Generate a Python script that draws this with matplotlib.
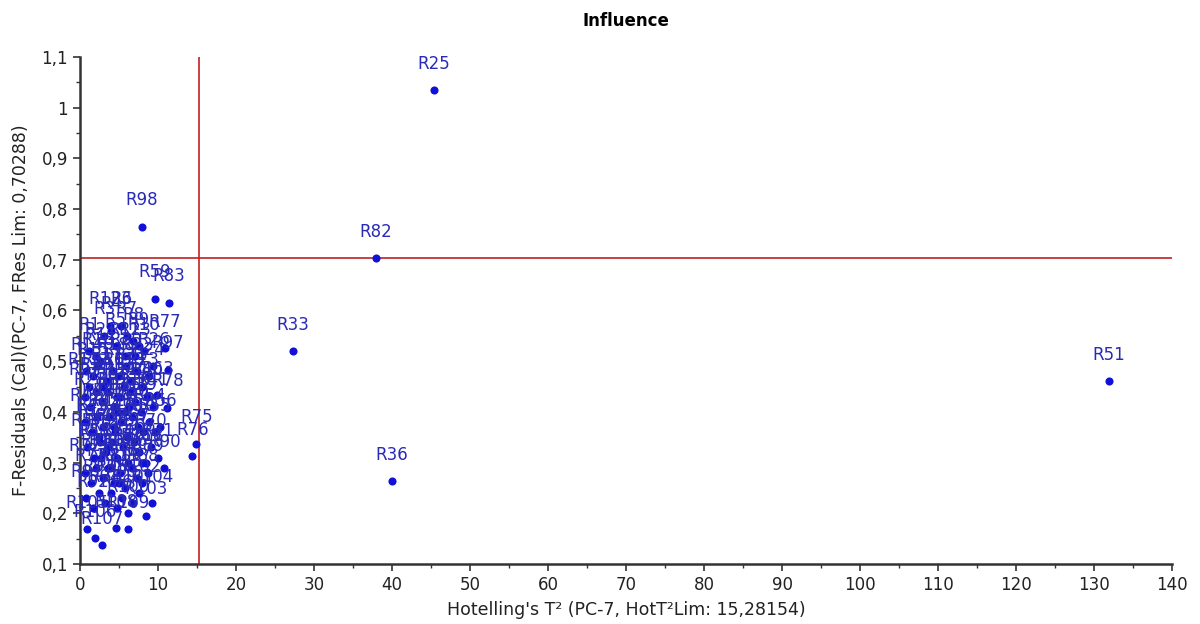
import matplotlib
matplotlib.use("Agg")
import matplotlib.pyplot as plt
from matplotlib.ticker import MultipleLocator, FuncFormatter

plt.rcParams['font.family'] = ['DejaVu Sans']

# Data ------------------------------------------------------------------------

# outlying / labelled samples
named = ["R25", "R98", "R82", "R33", "R51", "R36", "R75", "R76", "R59", "R83",
         "R123", "R77", "R97", "R63", "R78"]
named_t2 = [45.4, 7.9, 37.9, 27.3, 131.9, 40.0, 14.9, 14.4, 9.6, 11.4,
            3.8, 10.9, 11.3, 9.9, 11.2]
named_fres = [1.035, 0.765, 0.703, 0.52, 0.46, 0.263, 0.337, 0.313, 0.623, 0.615,
              0.57, 0.526, 0.483, 0.433, 0.408]

# the dense cluster of samples (108 of them, the rest of R1..R123)
cluster_t2 = [1.2, 2.0, 3.1, 4.0, 4.6, 5.3, 6.0, 6.8, 7.5, 8.2, 2.6, 5.8, 7.0,
              0.8, 1.6, 2.3, 3.4, 4.2, 5.0, 5.9, 6.5, 7.3, 8.0, 8.8, 9.4,
              0.6, 1.3, 2.0, 2.8, 3.5, 4.3, 5.1, 5.7, 6.4, 7.1, 7.8, 8.6, 9.3,
              0.7, 1.5, 2.2, 3.0, 3.7, 4.5, 5.2, 6.0, 6.7, 7.4, 8.1, 8.9, 9.6, 10.3,
              0.9, 1.8, 2.5, 3.3, 4.1, 4.8, 5.5, 6.2, 6.9, 7.6, 8.4, 9.1, 10.0,
              0.6, 1.4, 2.1, 2.9, 3.6, 4.4, 5.1, 5.8, 6.6, 7.3, 8.0, 8.7, 10.8,
              0.8, 1.6, 2.4, 3.2, 4.0, 4.7, 5.4, 6.1, 6.8, 7.6, 8.5, 9.2,
              0.9, 1.9, 2.8, 4.6, 6.2,
              3.0, 4.9, 2.7, 5.6, 3.9, 4.3, 6.3, 1.1, 7.9, 5.0,
              2.4, 3.6, 4.7]
cluster_fres = [0.52, 0.51, 0.55, 0.56, 0.53, 0.57, 0.55, 0.54, 0.53, 0.52, 0.50, 0.51, 0.51,
                0.48, 0.47, 0.49, 0.46, 0.48, 0.47, 0.49, 0.46, 0.48, 0.45, 0.47, 0.49,
                0.43, 0.41, 0.44, 0.42, 0.44, 0.41, 0.43, 0.40, 0.44, 0.42, 0.40, 0.43, 0.41,
                0.38, 0.36, 0.39, 0.37, 0.39, 0.36, 0.38, 0.35, 0.39, 0.37, 0.36, 0.38, 0.36, 0.37,
                0.33, 0.31, 0.34, 0.32, 0.34, 0.31, 0.33, 0.30, 0.34, 0.32, 0.30, 0.33, 0.31,
                0.28, 0.26, 0.29, 0.27, 0.29, 0.26, 0.28, 0.25, 0.29, 0.27, 0.26, 0.28, 0.289,
                0.23, 0.21, 0.24, 0.22, 0.24, 0.21, 0.23, 0.20, 0.22, 0.24, 0.195, 0.22,
                0.169, 0.151, 0.137, 0.171, 0.169,
                0.45, 0.40, 0.31, 0.45, 0.29, 0.37, 0.41, 0.45, 0.30, 0.26,
                0.35, 0.33, 0.43]

t2_lim = 15.28154
fres_lim = 0.70288

# sample names for the cluster: the ids not already used by the named points
cluster_names = ["R%d" % i for i in range(1, 124) if "R%d" % i not in named]

# Plot ------------------------------------------------------------------------

fig = plt.figure(figsize=(12, 6.24), dpi=100)
ax = fig.add_axes([0.0667, 0.0962, 0.91, 0.8125])

point_color = "#1010d8"
label_color = "#2a2ab8"

all_t2 = cluster_t2 + named_t2
all_fres = cluster_fres + named_fres
all_names = cluster_names + named

ax.scatter(all_t2, all_fres, s=34, color=point_color, zorder=3, linewidths=0)
for name, x, y in zip(all_names, all_t2, all_fres):
    ax.annotate(name, (x, y), xytext=(0, 19), textcoords="offset points",
                ha="center", va="center", fontsize=12, color=label_color, zorder=4)

ax.axvline(t2_lim, color="#c02020", lw=1.2, zorder=2)
ax.axhline(fres_lim, color="#c02020", lw=1.2, zorder=2)

ax.set_xlim(0, 140)
ax.set_ylim(0.1, 1.1)
ax.xaxis.set_major_locator(MultipleLocator(10))
ax.xaxis.set_minor_locator(MultipleLocator(5))
ax.yaxis.set_major_locator(MultipleLocator(0.1))
ax.yaxis.set_minor_locator(MultipleLocator(0.05))
ax.yaxis.set_major_formatter(FuncFormatter(lambda v, p: ("%g" % round(v, 2)).replace(".", ",")))

for s in ["top", "right"]:
    ax.spines[s].set_visible(False)
for s in ["left", "bottom"]:
    ax.spines[s].set_linewidth(1.8)
    ax.spines[s].set_color("#333333")
ax.tick_params(which="major", direction="out", length=5, width=1.2, labelsize=12, colors="#333333")
ax.tick_params(which="minor", direction="out", length=3, width=1.0, colors="#333333")
ax.tick_params(labelcolor="#222222")

ax.set_title("Influence", fontsize=12, fontweight="bold", pad=22)
ax.set_xlabel("Hotelling's T² (PC-7, HotT²Lim: 15,28154)", fontsize=12.5, color="#222222", labelpad=5)
ax.set_ylabel("F-Residuals (Cal)(PC-7, FRes Lim: 0,70288)", fontsize=12.5, color="#222222", labelpad=8)

fig.savefig("out.png", dpi=100)
